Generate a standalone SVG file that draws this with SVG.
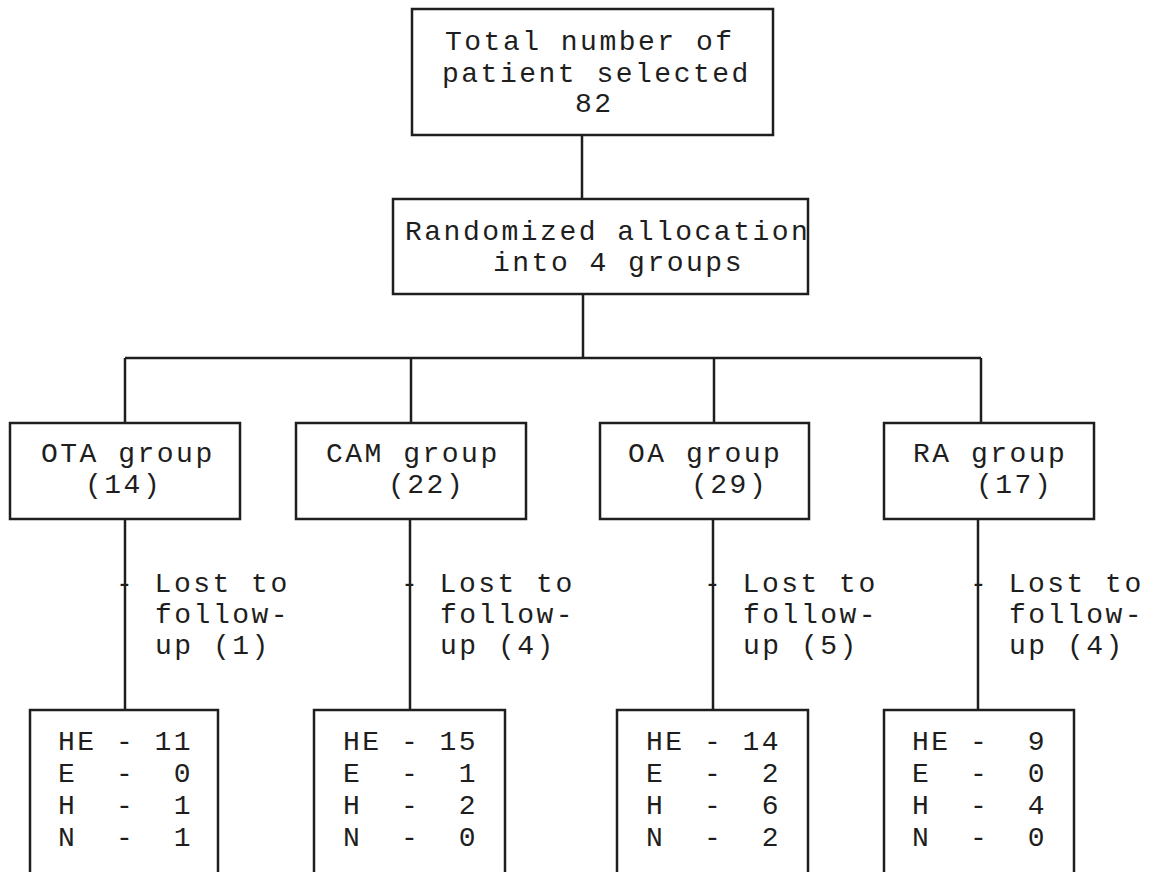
<svg xmlns="http://www.w3.org/2000/svg" width="1156" height="872" viewBox="0 0 1156 872">
<style>
.box{fill:none;stroke:#1e1e1e;stroke-width:2.5}
.ln{fill:none;stroke:#1e1e1e;stroke-width:2.5}
text{font-family:"Liberation Mono","DejaVu Sans Mono",monospace;font-size:28px;letter-spacing:2.5px;fill:#1e1e1e;white-space:pre}
</style>
<rect width="1156" height="872" fill="#ffffff"/>
<g id="connectors">
<line class="ln" x1="582" y1="135" x2="582" y2="199"/>
<line class="ln" x1="583" y1="294" x2="583" y2="358"/>
<line class="ln" x1="125" y1="358" x2="981" y2="358"/>
<line class="ln" x1="125" y1="358" x2="125" y2="423"/>
<line class="ln" x1="411" y1="358" x2="411" y2="423"/>
<line class="ln" x1="714" y1="358" x2="714" y2="423"/>
<line class="ln" x1="981" y1="358" x2="981" y2="423"/>
<line class="ln" x1="125" y1="519" x2="125" y2="710"/>
<line class="ln" x1="410" y1="519" x2="410" y2="710"/>
<line class="ln" x1="713" y1="519" x2="713" y2="710"/>
<line class="ln" x1="978" y1="519" x2="978" y2="710"/>
</g>
<g id="total">
<rect class="box" x="412" y="9" width="361" height="126"/>
<text x="445" y="50">Total number of</text>
<text x="442" y="82">patient selected</text>
<text x="575" y="112">82</text>
</g>
<g id="randomized">
<rect class="box" x="393" y="199" width="415" height="95"/>
<text x="405" y="240">Randomized allocation</text>
<text x="493" y="271">into 4 groups</text>
</g>
<g id="ota">
<rect class="box" x="10" y="423" width="230" height="96"/>
<text x="41" y="462">OTA group</text>
<text x="85" y="493">(14)</text>
</g>
<g id="cam">
<rect class="box" x="296" y="423" width="230" height="96"/>
<text x="326" y="462">CAM group</text>
<text x="388" y="493">(22)</text>
</g>
<g id="oa">
<rect class="box" x="600" y="423" width="209" height="96"/>
<text x="628" y="462">OA group</text>
<text x="691" y="493">(29)</text>
</g>
<g id="ra">
<rect class="box" x="884" y="423" width="210" height="96"/>
<text x="913" y="462">RA group</text>
<text x="976" y="493">(17)</text>
</g>
<g id="lost-ota">
<text x="116" y="592">- Lost to</text>
<text x="155" y="623">follow-</text>
<text x="155" y="654">up (1)</text>
</g>
<g id="lost-cam">
<text x="401" y="592">- Lost to</text>
<text x="440" y="623">follow-</text>
<text x="440" y="654">up (4)</text>
</g>
<g id="lost-oa">
<text x="704" y="592">- Lost to</text>
<text x="743" y="623">follow-</text>
<text x="743" y="654">up (5)</text>
</g>
<g id="lost-ra">
<text x="970" y="592">- Lost to</text>
<text x="1009" y="623">follow-</text>
<text x="1009" y="654">up (4)</text>
</g>
<g id="result-ota">
<rect class="box" x="30" y="710" width="188" height="180"/>
<text x="58" y="750">HE - 11</text>
<text x="58" y="782">E  -  0</text>
<text x="58" y="814">H  -  1</text>
<text x="58" y="846">N  -  1</text>
</g>
<g id="result-cam">
<rect class="box" x="314" y="710" width="191" height="180"/>
<text x="343" y="750">HE - 15</text>
<text x="343" y="782">E  -  1</text>
<text x="343" y="814">H  -  2</text>
<text x="343" y="846">N  -  0</text>
</g>
<g id="result-oa">
<rect class="box" x="617" y="710" width="191" height="180"/>
<text x="646" y="750">HE - 14</text>
<text x="646" y="782">E  -  2</text>
<text x="646" y="814">H  -  6</text>
<text x="646" y="846">N  -  2</text>
</g>
<g id="result-ra">
<rect class="box" x="884" y="710" width="190" height="180"/>
<text x="912" y="750">HE -  9</text>
<text x="912" y="782">E  -  0</text>
<text x="912" y="814">H  -  4</text>
<text x="912" y="846">N  -  0</text>
</g>
</svg>
